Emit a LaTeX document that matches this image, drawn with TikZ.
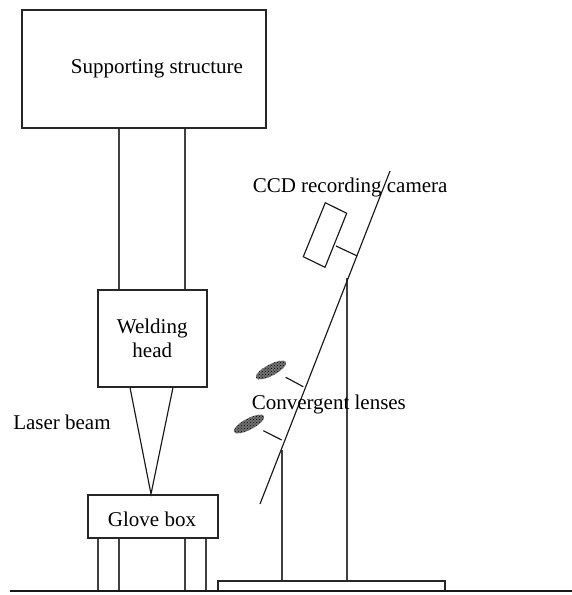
\documentclass[tikz,border=0pt]{standalone}
\usepackage{fontspec}
\setmainfont{Liberation Serif}
\usetikzlibrary{patterns}
\tikzset{
  x=1pt,y=-1pt,
  every path/.style={line width=1.5pt,color=black!75},
  boxnode/.style={draw=black!85,line width=1.5pt,minimum width=0pt,minimum height=0pt,inner sep=0pt,anchor=north west,align=center,font=\fontsize{21}{24}\selectfont,text=black},
  lbl/.style={inner sep=0pt,font=\fontsize{21}{24}\selectfont,text=black},
  thinline/.style={line width=1.15pt,color=black!90},
  lensbody/.style={fill=black!55,postaction={pattern=crosshatch dots,pattern color=black}}
}
\begin{document}
\begin{tikzpicture}
\useasboundingbox (0,0) rectangle (572,595);
\fill[white] (0,0) rectangle (572,595);
% boxes
\node[boxnode,minimum width=244pt,minimum height=118pt] (support) at (21,9) {};
\node[boxnode,minimum width=109pt,minimum height=97pt] (head) at (97,289) {Welding\\head};
\node[boxnode,minimum width=130pt,minimum height=43pt] (glove) at (87,494) {};
\node[boxnode,minimum width=227pt,minimum height=10pt] (base) at (217,580) {};
% ground
\coordinate (gl) at (10,591);
\coordinate (gr) at (572,591);
\draw[line width=2pt,color=black!90] (gl) -- (gr);
% support columns
\draw (support.south west -| 119,0) -- (head.north west -| 119,0);
\draw (support.south west -| 185,0) -- (head.north west -| 185,0);
% laser beam
\coordinate (focus) at (151,494);
\draw[thinline] (head.south west -| 130,0) -- (focus) -- (head.south west -| 173,0);
% legs
\foreach \x in {98,119,185,206} \draw (glove.south west -| \x,0) -- (\x,590);
% posts
\coordinate (p1) at (282,450);
\coordinate (p2) at (347,278.3);
\draw (p1) -- (p1 |- base.north);
\draw (p2) -- (p2 |- base.north);
% inclined rail
\coordinate (r1) at (390,171);
\coordinate (r2) at (260,504);
\draw[thinline] (r1) -- (r2);
% camera
\draw[thinline] (325.3,202.7) -- (346.7,213.3) -- (325,267.3) -- (303.3,256.7) -- cycle;
\coordinate (c1) at (336,246);
\coordinate (c2) at (357.3,256);
\draw[thinline] (c1) -- (c2);
% lenses
\coordinate (l1a) at (285.7,377.3);
\coordinate (l1b) at (303.3,386.7);
\coordinate (l2a) at (263.3,430.7);
\coordinate (l2b) at (281.7,440);
\draw[thinline] (l1a) -- (l1b);
\draw[thinline] (l2a) -- (l2b);
\path[lensbody,rotate around={28:(271,370)}] (271,370) ellipse (17pt and 5.6pt);
\path[lensbody,rotate around={28:(249,424)}] (249,424) ellipse (17pt and 5.6pt);
% labels
\node[lbl] (t0) at (157,69) {Supporting structure};
\node[lbl,anchor=west] (t1) at (252,187) {CCD recording camera};
\node[lbl,anchor=west] (t2) at (251,404) {Convergent lenses};
\node[lbl,anchor=west] (t3) at (12.5,422) {Laser beam};
\node[lbl] (t4) at (152,519) {Glove box};
\end{tikzpicture}
\end{document}
